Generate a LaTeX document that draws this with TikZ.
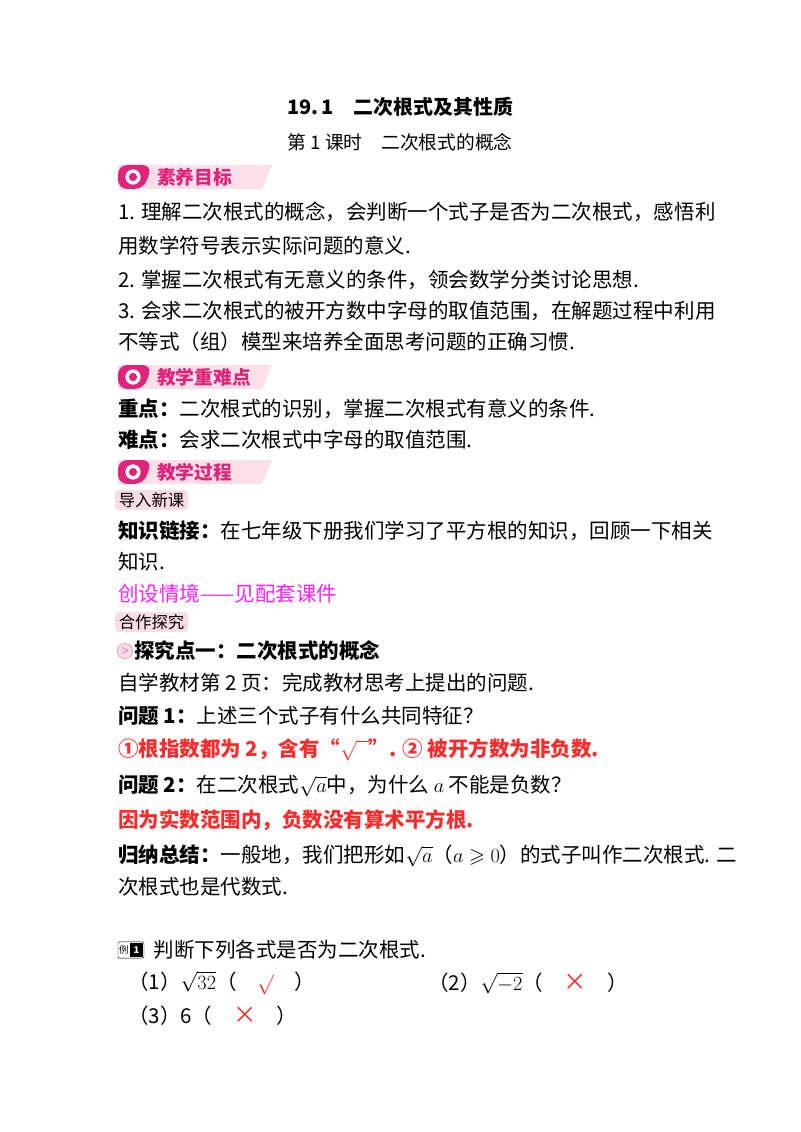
\documentclass[tikz,border=0pt]{standalone}
\usepackage{fontspec}
\usepackage{amsmath,amssymb}
\newfontfamily\cjk{Noto Sans CJK SC}
\usetikzlibrary{positioning,calc}
\definecolor{badgepink}{HTML}{FBE0EA}
\definecolor{badgemag}{HTML}{E2237A}
\definecolor{tagpink}{HTML}{F9DCE6}
\definecolor{ansred}{HTML}{FF2A2A}
\definecolor{linkmag}{HTML}{FF22FF}
\tikzset{
  line/.style={anchor=west, inner sep=0pt, font=\cjk\fontsize{17.5}{21}\selectfont},
  bold/.style={line, font=\cjk\bfseries\fontsize{17.5}{21}\selectfont},
  tag/.style={anchor=west, fill=tagpink, rounded corners=3pt, inner xsep=3pt, inner ysep=2pt, font=\cjk\fontsize{14}{16}\selectfont},
  badgetext/.style={anchor=west, inner sep=0pt, text=badgemag, font=\cjk\bfseries\fontsize{16}{18}\selectfont}
}
\newcommand{\badge}[3]{%
  \fill[badgepink] (118,#2-12) -- (272,#2-12) -- (262,#2+12) -- (118,#2+12) -- cycle;
  \fill[badgemag, rounded corners=8pt] (118,#2-12) -- (152,#2-12) -- (144,#2+12) -- (118,#2+12) -- cycle;
  \node[circle, fill=white, minimum size=13pt, inner sep=0pt] (#1icon) at (133,#2) {};
  \fill[badgemag] (#1icon.center) circle (3.5pt);
  \node[badgetext] (#1) at (157,#2) {#3};
}
\newcommand{\redx}{\textcolor{ansred}{\fontsize{20}{20}\selectfont ×}}
\begin{document}
\begin{tikzpicture}[x=0.03cm, y=-0.03cm]
\useasboundingbox (0,0) rectangle (800,1132);

% Title
\node[inner sep=0pt, font=\cjk\bfseries\fontsize{17}{20}\selectfont] (title) at (400,107) {19.\,1\quad 二次根式及其性质};
\node[inner sep=0pt, font=\cjk\fontsize{16}{19}\selectfont] (subtitle) at (400,142) {第 1 课时\quad 二次根式的概念};

% Goals
\badge{goals}{177}{素养目标}
\node[line] (g1) at (118,212) {1. 理解二次根式的概念，会判断一个式子是否为二次根式，感悟利};
\node[line] (g1b) at (118,246) {用数学符号表示实际问题的意义.};
\node[line] (g2) at (118,280) {2. 掌握二次根式有无意义的条件，领会数学分类讨论思想.};
\node[line] (g3) at (118,311) {3. 会求二次根式的被开方数中字母的取值范围，在解题过程中利用};
\node[line] (g3b) at (118,342) {不等式（组）模型来培养全面思考问题的正确习惯.};

% Key points
\badge{keys}{377}{教学重难点}
\node[line] (k1) at (118,409) {\textbf{重点：}二次根式的识别，掌握二次根式有意义的条件.};
\node[line] (k2) at (118,440) {\textbf{难点：}会求二次根式中字母的取值范围.};

% Process
\badge{proc}{472}{教学过程}
\node[tag] (intro) at (115,500) {导入新课};
\node[line] (p1) at (118,531) {\textbf{知识链接：}在七年级下册我们学习了平方根的知识，回顾一下相关};
\node[line] (p1b) at (118,562) {知识.};
\node[line, text=linkmag] (p2) at (118,594) {创设情境——见配套课件};
\node[tag] (coop) at (115,622) {合作探究};
\node[circle, draw=badgemag!60, fill=tagpink, minimum size=13pt, inner sep=0pt, font=\bfseries\fontsize{9}{9}\selectfont, text=badgemag] (arrowicon) at (125,651) {$>$};
\node[bold, right=1pt of arrowicon] (p3) {探究点一：二次根式的概念};
\node[line] (p4) at (118,683) {自学教材第 2 页：完成教材思考上提出的问题.};
\node[line] (q1) at (118,716) {\textbf{问题 1：}上述三个式子有什么共同特征？};
\node[line, text=ansred] (a1) at (118,750) {\textbf{①根指数都为 2，含有“$\sqrt{\phantom{x}}$”. ② 被开方数为非负数.}};
\node[line] (q2) at (118,786) {\textbf{问题 2：}在二次根式$\sqrt{a}$中，为什么 $a$ 不能是负数？};
\node[line, text=ansred] (a2) at (118,820) {\textbf{因为实数范围内，负数没有算术平方根.}};
\node[line] (sum) at (118,856) {\textbf{归纳总结：}一般地，我们把形如$\sqrt{a}$（$a\geqslant 0$）的式子叫作二次根式. 二};
\node[line] (sumb) at (118,887) {次根式也是代数式.};

% Example
\node[draw, fill=white, rounded corners=1pt, inner sep=1pt, font=\cjk\fontsize{8}{9}\selectfont] (exlabel) at (131,950) {例\,\colorbox{black}{\textcolor{white}{\bfseries 1}}};
\node[line, right=8pt of exlabel] (ex) {判断下列各式是否为二次根式.};
\node[line] (e1) at (128,983) {（1）$\sqrt{32}$（\quad\textcolor{ansred}{$\surd$}\quad）};
\node[line] (e2) at (428,983) {（2）$\sqrt{-2}$（\quad\redx\quad）};
\node[line] (e3) at (128,1016) {（3）6（\quad\redx\quad）};
\end{tikzpicture}
\end{document}
